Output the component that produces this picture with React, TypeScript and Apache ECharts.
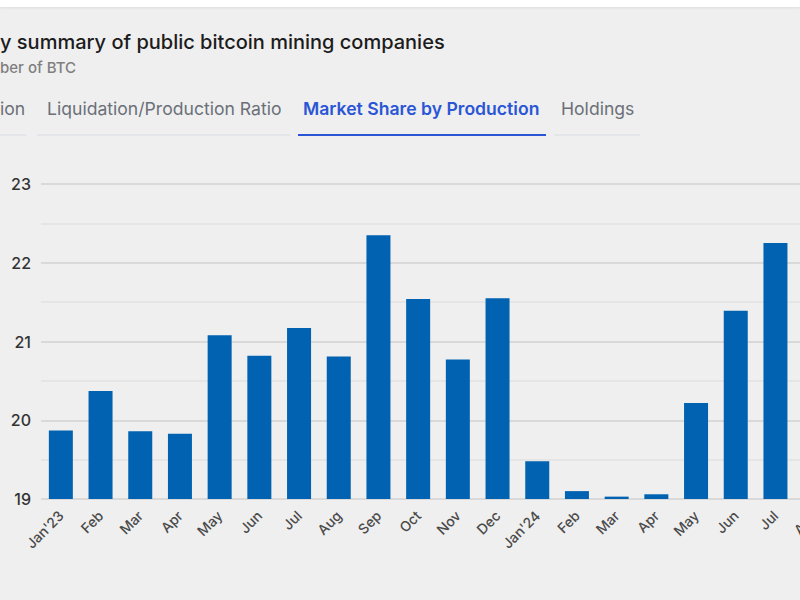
import React, { useEffect, useRef } from "react";
import * as echarts from "echarts";

const categories = [
  "Jan'23", "Feb", "Mar", "Apr", "May", "Jun", "Jul", "Aug", "Sep", "Oct", "Nov", "Dec",
  "Jan'24", "Feb", "Mar", "Apr", "May", "Jun", "Jul", "Aug",
];
const marketShare: (number | null)[] = [
  19.87, 20.37, 19.86, 19.83, 21.08, 20.82, 21.17, 20.81, 22.35, 21.54, 20.77, 21.55,
  19.48, 19.1, 19.03, 19.06, 20.22, 21.39, 22.25, null,
];
const titleText = "y summary of public bitcoin mining companies";
const subtitleText = "ber of BTC";
const tabs = ["ion", "Liquidation/Production Ratio", "Market Share by Production", "Holdings"];
const tabX = [0, 47, 303, 561];
const activeTab = 2;

const FONT = "Inter, 'Noto Sans', sans-serif";

export default function App() {
  const ref = useRef<HTMLDivElement>(null);
  useEffect(() => {
    document.body.style.margin = "0";
    if (!ref.current) return;
    const chart = echarts.init(ref.current, null, { renderer: "svg" });
    const tabUnderline = [
      { x1: 0, x2: 26 },
      { x1: 37, x2: 290 },
      { x1: 298, x2: 546 },
      { x1: 554, x2: 640 },
    ];
    const graphics: any[] = [
      {
        type: "text",
        left: 0,
        top: 32,
        style: { text: titleText, font: `500 20px ${FONT}`, fill: "#1c1c1c" },
      },
      {
        type: "text",
        left: 0,
        top: 60,
        style: { text: subtitleText, font: `500 15px ${FONT}`, fill: "#7f7f7f" },
      },
    ];
    tabs.forEach((t, i) => {
      graphics.push({
        type: "text",
        left: tabX[i],
        top: 99,
        style: {
          text: t,
          font: `${i === activeTab ? 600 : 400} 17.6px ${FONT}`,
          fill: i === activeTab ? "#2a56d6" : "#6b7078",
        },
      });
      graphics.push({
        type: "line",
        shape: { x1: tabUnderline[i].x1, y1: 135, x2: tabUnderline[i].x2, y2: 135 },
        style: {
          stroke: i === activeTab ? "#2a56d6" : "#dfe2e6",
          lineWidth: i === activeTab ? 2 : 1.5,
        },
      });
    });
    chart.setOption({
      animation: false,
      backgroundColor: "transparent",
      textStyle: { fontFamily: FONT },
      grid: { left: 41, right: 5, top: 184, bottom: 101, containLabel: false },
      xAxis: {
        type: "category",
        data: categories,
        axisLine: { show: false },
        axisTick: { show: false },
        axisLabel: {
          rotate: 45,
          fontSize: 14,
          fontWeight: 500,
          color: "#4a4a4a",
          margin: 14,
          interval: 0,
          fontFamily: FONT,
        },
      },
      yAxis: {
        type: "value",
        min: 19,
        max: 23,
        interval: 0.5,
        axisLine: { show: false },
        axisTick: { show: false },
        axisLabel: {
          fontSize: 16,
          fontWeight: 500,
          color: "#333",
          margin: 10,
          fontFamily: FONT,
          formatter: (v: number) => (Number.isInteger(v) ? String(v) : ""),
        },
        splitLine: {
          lineStyle: { color: ["#d2d2d2", "#e2e2e2"], width: 1.5 },
        },
      },
      series: [
        {
          type: "bar",
          data: marketShare,
          barWidth: 24,
          itemStyle: { color: "#0062b1" },
        },
      ],
      graphic: graphics,
    });
    return () => chart.dispose();
  }, []);
  return (
    <div
      style={{
        position: "fixed",
        left: 0,
        top: 0,
        width: 800,
        height: 600,
        overflow: "hidden",
        background: "#efefef",
      }}
    >
      <div
        style={{
          position: "absolute",
          left: 0,
          top: 0,
          width: 800,
          height: 7,
          background: "#ffffff",
          boxShadow: "0 1px 3px rgba(0,0,0,0.08)",
        }}
      />
      <div ref={ref} style={{ position: "absolute", left: 0, top: 0, width: 840, height: 600 }} />
    </div>
  );
}
